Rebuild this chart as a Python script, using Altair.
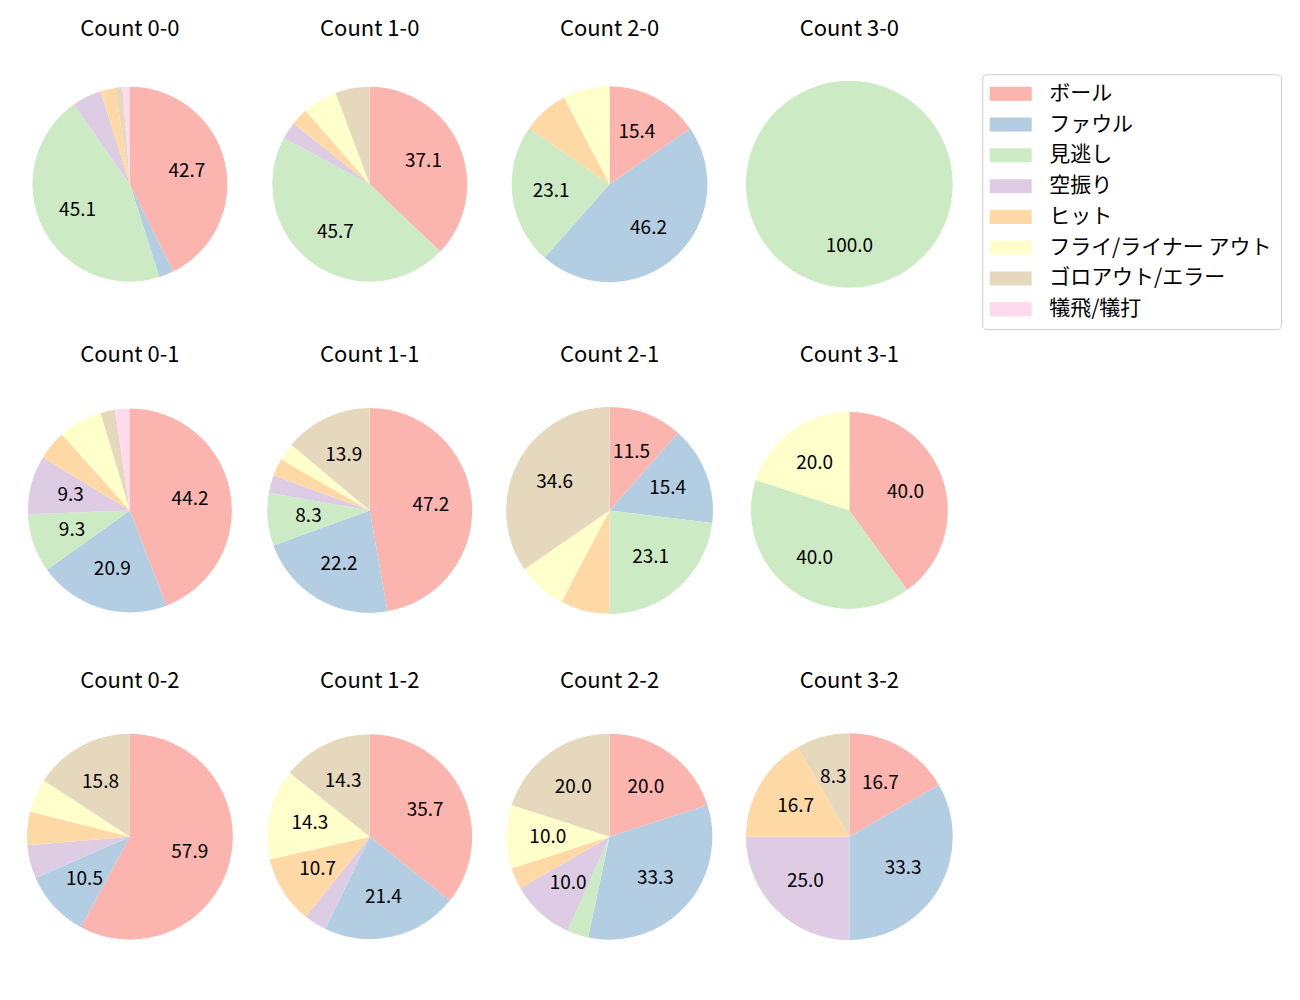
import altair as alt
import pandas as pd

categories = ["ボール", "ファウル", "見逃し", "空振り", "ヒット",
              "フライ/ライナー アウト", "ゴロアウト/エラー", "犠飛/犠打"]
colors = ["#fbb4ae", "#b3cde3", "#ccebc5", "#decbe4", "#fed9a6",
          "#ffffcc", "#e5d8bd", "#fddaec"]

# counts per category (same order as categories)
c_0_0 = [70, 4, 74, 8, 4, 0, 2, 2]
c_1_0 = [13, 0, 16, 1, 1, 2, 2, 0]
c_2_0 = [2, 6, 3, 0, 1, 1, 0, 0]
c_3_0 = [0, 0, 1, 0, 0, 0, 0, 0]
c_0_1 = [19, 9, 4, 4, 2, 3, 1, 1]
c_1_1 = [17, 8, 3, 1, 1, 1, 5, 0]
c_2_1 = [3, 4, 6, 0, 2, 2, 9, 0]
c_3_1 = [2, 0, 2, 0, 0, 1, 0, 0]
c_0_2 = [11, 2, 0, 1, 1, 1, 3, 0]
c_1_2 = [10, 6, 0, 1, 3, 4, 4, 0]
c_2_2 = [6, 10, 1, 3, 1, 3, 6, 0]
c_3_2 = [2, 4, 0, 3, 2, 0, 1, 0]

panels = [
    [("Count 0-0", c_0_0), ("Count 1-0", c_1_0), ("Count 2-0", c_2_0), ("Count 3-0", c_3_0)],
    [("Count 0-1", c_0_1), ("Count 1-1", c_1_1), ("Count 2-1", c_2_1), ("Count 3-1", c_3_1)],
    [("Count 0-2", c_0_2), ("Count 1-2", c_1_2), ("Count 2-2", c_2_2), ("Count 3-2", c_3_2)],
]

# style: pie radius of each panel (pixels)
radii = [
    [97.5, 97.5, 98, 103.5],
    [102, 102.5, 103.5, 98.5],
    [103, 102.5, 103, 103.5],
]

FONT = "Noto Sans CJK JP"
W = 230
H = 230

color_scale = alt.Scale(domain=categories, range=colors)


def pie(title, counts, R, show_legend=False):
    total = sum(counts)
    rows = []
    for i, (cat, v) in enumerate(zip(categories, counts)):
        if v > 0:
            pct = v / total * 100
            rows.append({"cat": cat, "idx": i, "value": v, "pct": pct,
                         "label": f"{pct:.1f}" if pct >= 8 else ""})
    df = pd.DataFrame(rows)
    base = alt.Chart(df).encode(
        theta=alt.Theta("value:Q", stack=True),
        order=alt.Order("idx:Q"),
    )
    legend = None
    if show_legend:
        legend = alt.Legend(
            title=None, orient="none", legendX=968, legendY=5,
            symbolType="M-3,-1L3,-1L3,1L-3,1Z",
            symbolSize=196, symbolStrokeWidth=0, symbolOpacity=1,
            symbolOffset=9,
            labelFont=FONT, labelFontSize=21, labelOffset=28,
            rowPadding=8.8, padding=9, strokeColor="#cccccc",
            cornerRadius=4, fillColor="white", labelLimit=400,
        )
    arc = base.mark_arc(outerRadius=R, stroke=None).encode(
        color=alt.Color("cat:N", scale=color_scale, legend=legend,
                        sort=categories),
    )
    text = base.mark_text(radius=R * 0.6, font=FONT, fontSize=19,
                          color="black").encode(text="label:N")
    return alt.layer(arc, text).properties(
        width=W, height=H,
        title=alt.TitleParams(title, font=FONT, fontSize=22, fontWeight="normal",
                              offset=28.5, color="black"),
    )


rows = []
for r, row in enumerate(panels):
    charts = [pie(t, c, radii[r][k], show_legend=(r == 0 and k == 0))
              for k, (t, c) in enumerate(row)]
    rows.append(alt.hconcat(*charts, spacing=10))

chart = alt.vconcat(*rows, spacing=44.5).properties(
    padding={"left": 7, "top": 9, "right": 10, "bottom": 10}
).configure_view(stroke=None).resolve_scale(color="shared")

chart.save("out.html", embed_options={"renderer": "svg", "actions": False})
